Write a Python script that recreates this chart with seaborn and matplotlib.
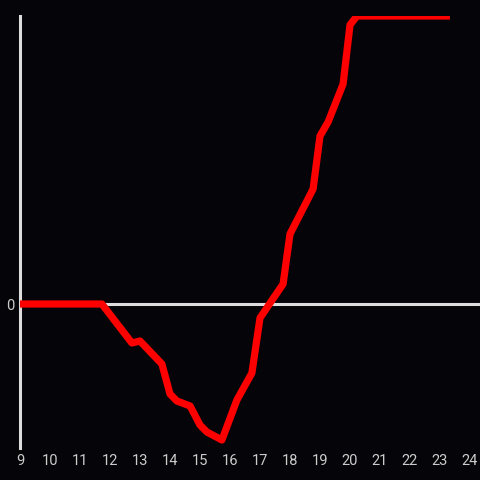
import matplotlib
matplotlib.use("Agg")
import matplotlib.pyplot as plt
import seaborn as sns
import pandas as pd

hours = [9, 11.73, 12.73, 13.0, 13.73, 14.0, 14.23, 14.67, 15.0, 15.23, 15.73,
         16.23, 16.73, 17.0, 17.27, 17.77, 18.0, 18.77, 19.0, 19.27, 19.77,
         20.0, 20.23, 23.33]
values = [0, 0, -39, -37, -60, -90, -97, -102, -121, -128, -136,
          -96, -69, -14, -2, 20, 70, 115, 168, 182, 220,
          279, 288, 288]
x_ticks = list(range(9, 25))

sns.set_theme(style="dark")
plt.rcParams["font.family"] = ["Roboto", "DejaVu Sans"]
bg = "#050408"
fig = plt.figure(figsize=(4.8, 4.8), dpi=100, facecolor=bg)
ax = fig.add_axes([20/480, 32/480, 460/480, 432/480])
ax.set_facecolor(bg)

df = pd.DataFrame({"hour": hours, "value": values})
ax.axhline(0, color="#dddddd", lw=2.2, zorder=1)
sns.lineplot(data=df, x="hour", y="value", sort=False, color="#ff0000",
             lw=5.2, ax=ax, zorder=3, solid_joinstyle="round", solid_capstyle="butt")

ax.set_xlim(9, 9 + 460/30)
ax.set_ylim(-144, 288)
ax.set_xticks(x_ticks)
ax.set_xticklabels([str(t) for t in x_ticks])
ax.set_yticks([0])
ax.set_yticklabels(["0"])
ax.set_xlabel("")
ax.set_ylabel("")
ax.grid(False)
for s in ["top", "right", "bottom"]:
    ax.spines[s].set_visible(False)
ax.spines["left"].set_visible(True)
ax.spines["left"].set_color("#dddddd")
ax.spines["left"].set_linewidth(2.2)
ax.tick_params(axis="both", length=0, colors="#cccccc", labelsize=10.5)
ax.tick_params(axis="x", pad=4)
ax.tick_params(axis="y", pad=4)

fig.savefig("out.png", dpi=100, facecolor=bg)
